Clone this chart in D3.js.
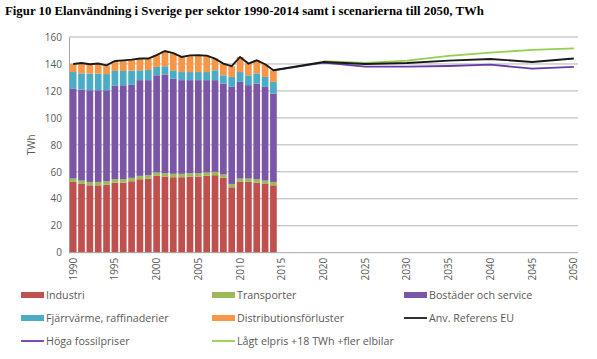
<!DOCTYPE html>
<html><head><meta charset="utf-8">
<script src="https://cdn.jsdelivr.net/npm/d3@7/dist/d3.min.js"></script>
<style>
body{margin:0;background:#fff;}
svg{display:block;}
</style></head>
<body>
<svg id="chart" width="597" height="359"></svg>
<script>
// ---- Data ----
const categories = ["1990","1991","1992","1993","1994","1995","1996","1997","1998","1999",
  "2000","2001","2002","2003","2004","2005","2006","2007","2008","2009",
  "2010","2011","2012","2013","2014","2015","2016","2017","2018","2019",
  "2020","2021","2022","2023","2024","2025","2026","2027","2028","2029",
  "2030","2031","2032","2033","2034","2035","2036","2037","2038","2039",
  "2040","2041","2042","2043","2044","2045","2046","2047","2048","2049","2050"];
const tickLabels = ["1990","1995","2000","2005","2010","2015","2020","2025","2030","2035","2040","2045","2050"];
const yTicks = [0,20,40,60,80,100,120,140,160];

const histYears = ["1990","1991","1992","1993","1994","1995","1996","1997","1998","1999",
  "2000","2001","2002","2003","2004","2005","2006","2007","2008","2009",
  "2010","2011","2012","2013","2014"];
const industri     = [52.5,51,50,50,50.5,52,52,53,54.5,55,57,56.5,56,56,56.5,56.5,57,57.5,55.5,48.5,52.5,52.5,52,51,50];
const transporter  = [2.5,2.5,2.5,2.5,2.5,2.5,2.5,2.5,2.5,2.5,2.5,2.5,2.5,2.5,2.5,2.5,2.5,2.5,2.5,2.5,2.5,2.5,2.5,2.5,2.5];
const bostader     = [66.5,67.5,68,68,67.5,69.5,69.7,69,71,70.5,72.1,73,70.5,69.5,69,69,68.5,68,67.5,72,71.7,69.3,71,69.5,65.5];
const fjarrvarme   = [12.5,12,12.3,12.3,12,10.8,10.6,10.5,7.3,7.5,6.2,6.3,6.3,6,6,6,6,7.3,6.1,7.4,7.3,7.3,7.5,7.4,8.7];
const distribution = [6,7.7,7,7.5,6.5,7.4,7.9,8.2,8.7,8.5,8.8,11.3,12.7,11.2,12.4,12.5,12.2,8.7,8.7,7.9,11.2,8.7,9.7,9.4,8.6];

const scenYears       = ["2020","2025","2030","2035","2040","2045","2050"];
const refEUFuture     = [141.5,140,140.7,142.5,143.7,141.5,144];
const fossilYears     = ["2014","2020","2025","2030","2035","2040","2045","2050"];
const hogaFossil      = [135.3,141,138,138,138.5,139.5,136.6,137.8];
const lagtElpris      = [142,140.7,142.5,146,148.4,150.4,151.6];

const seriesNames = ["Industri","Transporter","Bostäder och service","Fjärrvärme, raffinaderier","Distributionsförluster"];
const colors = ["#c0504d","#9bbb59","#7b56a6","#4bacc6","#f79646"];
const lineNames = ["Anv. Referens EU","Höga fossilpriser","Lågt elpris +18 TWh +fler elbilar"];
const lineColors = ["#1a1a1a","#6a3aa8","#92d050"];

// ---- Layout ----
const svg = d3.select("#chart");
const L = 69, R = 578, T = 37, B = 252.7;
const x = d3.scaleBand().domain(categories).range([L, R]).paddingInner(0.2).paddingOuter(0.1);
const y = d3.scaleLinear().domain([0,160]).range([B, T]);
const cx = d => x(d) + x.bandwidth()/2;

// Title
svg.append("text").attr("x",5).attr("y",15)
  .attr("font-family","'Liberation Serif','Times New Roman',serif")
  .attr("font-weight","bold").attr("font-size",12.8).attr("fill","#000")
  .text("Figur 10 Elanvändning i Sverige per sektor 1990-2014 samt i scenarierna till 2050, TWh");

// gridlines
svg.append("g").selectAll("line").data(yTicks.filter(v=>v>0)).join("line")
  .attr("x1",L).attr("x2",R).attr("y1",d=>y(d)).attr("y2",d=>y(d))
  .attr("stroke","#b3b3b3").attr("stroke-width",1);

// y axis
const yAxis = svg.append("g").attr("transform",`translate(${L},0)`)
  .call(d3.axisLeft(y).tickValues(yTicks).tickSize(0).tickPadding(7));
yAxis.select(".domain").attr("stroke","#a6a6a6");
yAxis.selectAll("text").attr("font-family","'Open Sans',sans-serif").attr("font-size",10).attr("fill","#595959");

svg.append("text").attr("transform",`translate(35,${(T+B)/2}) rotate(-90)`)
  .attr("text-anchor","middle").attr("font-family","'Open Sans',sans-serif")
  .attr("font-size",10).attr("fill","#595959").text("TWh");

// stacked bars
const rows = histYears.map((yr,i)=>({year:yr, s0:industri[i], s1:transporter[i], s2:bostader[i], s3:fjarrvarme[i], s4:distribution[i]}));
const stack = d3.stack().keys(["s0","s1","s2","s3","s4"])(rows);
svg.append("g").selectAll("g").data(stack).join("g").attr("fill",(d,i)=>colors[i])
  .selectAll("rect").data(d=>d).join("rect")
  .attr("x",d=>x(d.data.year)).attr("width",x.bandwidth())
  .attr("y",d=>y(d[1])).attr("height",d=>y(d[0])-y(d[1]));

// x axis
const xAxis = svg.append("g").attr("transform",`translate(0,${B})`)
  .call(d3.axisBottom(x).tickValues(tickLabels).tickSize(0).tickPadding(4));
xAxis.select(".domain").attr("stroke","#a6a6a6").attr("d",`M${L},0H${R}`);
xAxis.selectAll("text").attr("font-family","'Open Sans',sans-serif").attr("font-size",10).attr("fill","#595959")
  .attr("transform","rotate(-90)").attr("text-anchor","end").attr("dy","0.35em").attr("x",-5).attr("y",0);

// lines
const totals = rows.map(r=>r.s0+r.s1+r.s2+r.s3+r.s4);
const refPts = histYears.map((yr,i)=>[yr,totals[i]]).concat(scenYears.map((yr,i)=>[yr,refEUFuture[i]]));
const fossilPts = fossilYears.map((yr,i)=>[yr,hogaFossil[i]]);
const lagtPts = scenYears.map((yr,i)=>[yr,lagtElpris[i]]);
const line = d3.line().x(d=>cx(d[0])).y(d=>y(d[1]));
svg.append("path").attr("d",line(fossilPts)).attr("fill","none").attr("stroke",lineColors[1]).attr("stroke-width",1.8);
svg.append("path").attr("d",line(lagtPts)).attr("fill","none").attr("stroke",lineColors[2]).attr("stroke-width",1.8);
svg.append("path").attr("d",line(refPts)).attr("fill","none").attr("stroke",lineColors[0]).attr("stroke-width",1.9);

// legend
const legendItems = [
  {name:seriesNames[0], color:colors[0], type:"bar", col:0,row:0},
  {name:seriesNames[1], color:colors[1], type:"bar", col:1,row:0},
  {name:seriesNames[2], color:colors[2], type:"bar", col:2,row:0},
  {name:seriesNames[3], color:colors[3], type:"bar", col:0,row:1},
  {name:seriesNames[4], color:colors[4], type:"bar", col:1,row:1},
  {name:lineNames[0], color:lineColors[0], type:"line", col:2,row:1},
  {name:lineNames[1], color:lineColors[1], type:"line", col:0,row:2},
  {name:lineNames[2], color:lineColors[2], type:"line", col:1,row:2}
];
const colX = [21,212,404], rowY = [295,318,341];
const lg = svg.append("g").selectAll("g").data(legendItems).join("g")
  .attr("transform",d=>`translate(${colX[d.col]},${rowY[d.row]})`);
lg.filter(d=>d.type==="bar").append("rect").attr("x",0).attr("y",-3).attr("width",23).attr("height",6).attr("fill",d=>d.color);
lg.filter(d=>d.type==="line").append("line").attr("x1",0).attr("x2",23).attr("y1",0).attr("y2",0).attr("stroke",d=>d.color).attr("stroke-width",1.8);
lg.append("text").attr("x",25).attr("y",0).attr("dy","0.35em")
  .attr("font-family","'Open Sans',sans-serif").attr("font-size",10.7).attr("fill","#595959").text(d=>d.name);
</script>
</body></html>
